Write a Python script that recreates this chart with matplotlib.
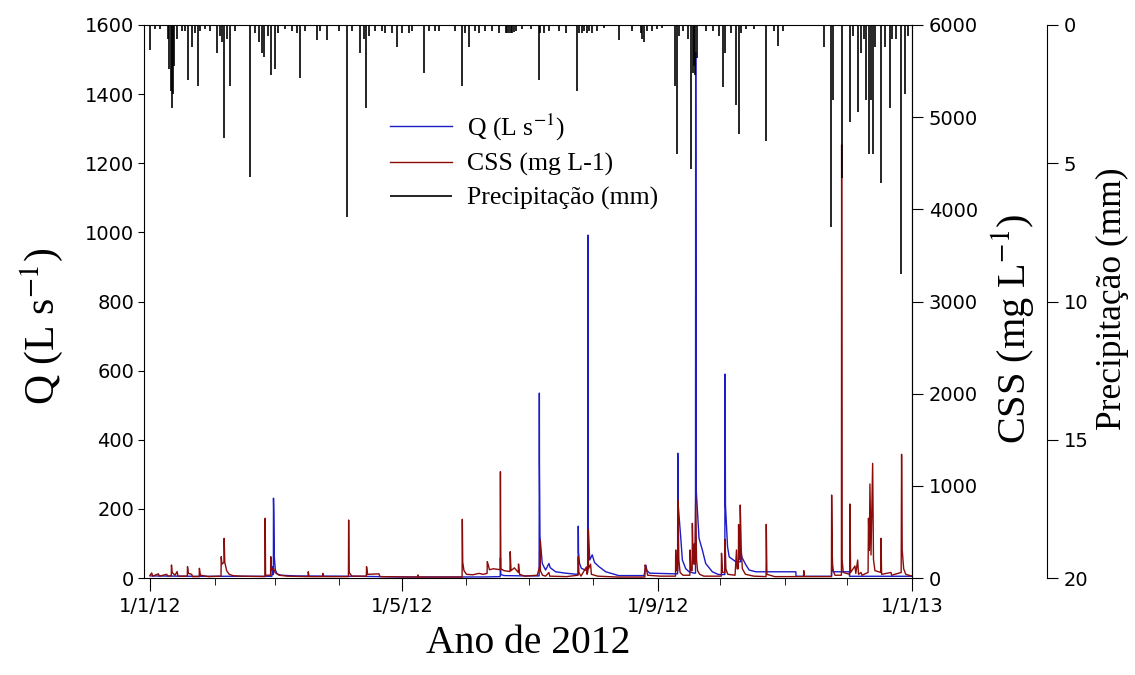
import numpy as np
import matplotlib
matplotlib.use("Agg")
import matplotlib.pyplot as plt
import matplotlib.dates as mdates
from matplotlib.ticker import FuncFormatter, MultipleLocator

q_dia = [0, 20, 40, 58.5, 58.9, 59.0, 59.25, 59.3, 59.45, 59.7, 60.2, 61, 63, 70,
         100, 120, 160, 168.2, 168.3, 168.5, 170, 180, 186.9, 187.0, 187.05, 187.3,
         188.4, 190, 191.6, 192.2, 194.8, 199.6, 204.4, 205.6, 205.7, 205.8, 206.3,
         207.2, 209.5, 210.2, 210.3, 210.5, 211.2, 212.4, 213.5, 215.6, 218.9, 222.9,
         225, 237.3, 238.2, 238.6, 240, 252.6, 253.4, 253.5, 253.6, 255, 255.7, 257.3,
         258.9, 261.3, 262.0, 262.1, 262.4, 263.7, 265.3, 266.9, 270.1, 273, 276.1,
         276.2, 276.4, 277.4, 278.2, 281.4, 283.7, 283.8, 284.3, 286.2, 287.8, 291,
         310.2, 310.3, 327.4, 327.5, 327.8, 328.2, 335.9, 336, 366]
q_val = [6, 5, 5, 5, 33, 10, 10, 231, 190, 60, 23, 12, 8, 6,
         5, 3, 3, 4, 58, 10, 7, 6, 6, 535, 335, 120,
         42, 23, 42, 30, 18, 14, 11, 11, 150, 75, 42,
         28, 22, 20, 992, 150, 52, 67, 45, 33, 18, 11,
         7, 7, 37, 22, 14, 12, 12, 361, 220, 110, 52, 27,
         18, 14, 14, 1520, 250, 115, 81, 42, 18, 10, 10,
         590, 211, 90, 61, 47, 47, 75, 60, 38, 23, 18,
         18, 5, 5, 120, 40, 18, 18, 5, 5]

# concentração de sedimentos em suspensão (mg/L)
css_dia = [0, 0.8, 1.3, 4, 4.5, 8, 8.5, 10.2, 10.3, 10.6, 12, 13, 13.4, 17.9, 18,
           18.4, 20, 20.4, 23.6, 23.7, 24.2, 28, 34.1, 34.2, 34.5, 35.5, 35.6, 35.9,
           36.8, 38, 40, 44, 55.2, 55.3, 55.5, 57.9, 58.0, 58.3, 59.2, 60, 62, 66,
           75.9, 76, 76.4, 82.9, 83, 83.4, 95.3, 95.4, 95.6, 97, 103.9, 104, 104.5,
           110, 110.4, 128.6, 128.7, 129, 149.9, 150, 150.2, 150.8, 152, 155, 158,
           160, 161.9, 162, 162.5, 163, 165, 168.2, 168.3, 168.5, 170, 172.9, 173,
           173.4, 175, 176.9, 177, 177.5, 180, 186, 187.1, 187.2, 187.5, 188.5, 190,
           191.6, 192, 200, 205.6, 205.7, 206, 207, 209.6, 209.9, 210.2, 210.3, 210.6,
           211.6, 212, 215, 225, 237.7, 237.8, 238.4, 239, 245, 252.4, 252.5, 252.9,
           253.5, 253.6, 254, 254.6, 256, 259.3, 259.4, 259.8, 260.4, 260.5, 260.9,
           261.4, 261.7, 262.1, 262.5, 263, 264, 266, 274.4, 274.5, 275, 276.1, 276.2,
           276.6, 277.5, 281, 281.7, 282, 282.6, 282.7, 283, 283.4, 283.5, 284, 284.5,
           286, 290, 295.9, 296, 296.3, 300, 313.9, 314, 314.3, 327.3, 327.4, 327.8,
           329, 332.1, 332.2, 332.4, 333, 336.1, 336.2, 336.5, 338.6, 339, 339.9,
           340.3, 341.5, 342, 344.9, 345.1, 345.5, 345.8, 346.3, 347.1, 347.5, 348.2,
           351, 351.1, 351.4, 355.9, 356.2, 360.8, 361.0, 361.3, 362, 363, 366]
css_val = [30, 55, 20, 45, 20, 40, 20, 25, 141, 60, 30, 70, 20, 20, 123,
           50, 40, 15, 15, 105, 30, 15, 20, 231, 150, 170, 430, 170,
           80, 40, 25, 20, 15, 648, 30, 30, 231, 80, 110, 60, 30, 20,
           15, 68, 15, 15, 50, 15, 15, 629, 60, 20, 20, 123, 40,
           45, 15, 10, 33, 10, 10, 637, 170, 80, 40, 35, 50,
           40, 50, 177, 140, 90, 100, 90, 1153, 100, 80, 70, 285,
           80, 110, 60, 152, 40, 20, 30, 120, 412, 80, 30, 20,
           60, 20, 15, 30, 231, 60, 20, 120, 40, 60, 528, 100,
           150, 40, 20, 10, 10, 141, 100, 30, 20, 20, 304, 80,
           80, 846, 200, 60, 30, 30, 304, 80, 80, 593, 150,
           370, 150, 880, 200, 80, 40, 20, 20, 268, 60, 60, 420,
           100, 40, 30, 304, 100, 100, 580, 200, 200, 792, 300, 100,
           40, 20, 15, 582, 40, 15, 15, 80, 15, 15, 900, 100,
           30, 30, 4700, 200, 60, 40, 803, 60, 130, 50, 195,
           40, 60, 30, 60, 648, 300, 1020, 250, 1244, 200, 80,
           60, 430, 40, 60, 30, 60, 1342, 300, 100, 40, 20]

# precipitação (mm)
chuva_dia = [0, 2.4, 4.8, 8.8, 9.2, 10.0, 10.4, 11.0, 11.6, 12.8, 15.2, 16.8, 18.4,
             20, 21.7, 22.9, 24, 26.5, 28.9, 32, 33.7, 34.5, 35.6, 36.9, 38.5, 40.9,
             48.1, 50.5, 52.1, 53.7, 54.8, 56.9, 58.2, 59.8, 61.7, 65, 68.1, 70.5,
             72.2, 74.6, 80.2, 81.8, 85, 90.6, 94.6, 97, 101, 102.6, 103.7, 105.3,
             108.2, 111.4, 113, 116.2, 118.6, 121, 124.3, 125.9, 131.5, 133.9, 137.1,
             138.7, 146.7, 150, 151.5, 153.2, 156.3, 157.9, 161.1, 164.4, 167.5, 170.8,
             171.6, 172.4, 173.2, 174, 174.8, 175.6, 178.8, 182.8, 186.8, 187.5, 189.2,
             191.6, 196.4, 199.6, 205.3, 206, 207.7, 208.5, 210.1, 211, 212.5, 214.9,
             218.1, 225.3, 231.7, 235.7, 236.5, 237.3, 238.9, 241.3, 243.7, 246.1,
             252.2, 253.3, 254, 255.8, 258.5, 260, 260.8, 261.2, 261.8, 262.5, 267,
             270.2, 273.4, 275, 276.3, 279, 281.4, 282.7, 284, 286.2, 290.2, 295.8,
             299.9, 301.5, 303.9, 323.9, 327.1, 327.9, 332.2, 336, 337.5, 339.9, 341.5,
             343, 344, 345.2, 346.3, 347.1, 348, 351.2, 352.8, 355.2, 356.5, 358.4,
             360.8, 362.4, 364]
chuva_mm = [0.9, 0.15, 0.15, 0.5, 1.6, 2.4, 3.0, 2.5, 1.5, 0.5, 0.2, 0.2, 2.0,
            0.8, 0.3, 2.2, 0.2, 0.15, 0.2, 1.0, 0.4, 0.6, 4.1, 0.5, 2.2, 0.2,
            5.5, 0.3, 0.6, 1.0, 1.15, 0.4, 1.8, 1.6, 0.3, 0.15, 0.2, 0.3,
            1.9, 0.2, 0.55, 0.2, 0.55, 0.2, 6.95, 0.2, 1.0, 0.5, 3.0, 0.4,
            0.2, 0.2, 0.3, 0.3, 0.8, 0.3, 0.3, 0.2, 1.75, 0.2, 0.2,
            0.2, 0.2, 2.2, 0.3, 0.8, 0.2, 0.3, 0.2, 0.2, 0.3, 0.3,
            0.3, 0.3, 0.3, 0.3, 0.25, 0.2, 0.15, 0.15, 2.0, 0.3, 0.3,
            0.2, 0.2, 0.3, 2.4, 0.3, 0.3, 0.2, 0.3, 0.2, 0.3, 0.2,
            0.1, 0.55, 0.2, 0.3, 0.5, 0.6, 0.2, 0.2, 0.15, 0.1,
            2.2, 4.65, 0.4, 0.2, 0.5, 5.2, 1.75, 1.5, 1.8, 1.2, 0.2,
            0.2, 0.4, 2.25, 1.0, 0.3, 2.9, 3.95, 0.3, 0.15, 0.15, 4.2,
            0.2, 0.75, 0.2, 0.8, 7.3, 2.7, 5.55, 3.5, 0.4, 3.15, 1.0,
            0.5, 2.7, 4.65, 2.7, 4.65, 0.8, 5.7, 0.8, 3.0, 0.5, 0.5,
            9.0, 2.5, 0.4]

plt.rcParams["mathtext.fontset"] = "stix"
serif = "Liberation Serif"

inicio = mdates.date2num(np.datetime64("2012-01-01"))

fig = plt.figure(figsize=(11.35, 6.75), dpi=100)
ax = fig.add_axes([144 / 1135, 97 / 675, 768 / 1135, 553 / 675])
ax2 = ax.twinx()
ax3 = ax.twinx()

l1, = ax.plot(inicio + np.array(q_dia), q_val, color="#1c1cc8", lw=1.0)
l2, = ax2.plot(inicio + np.array(css_dia), css_val, color="#8b0a0a", lw=1.0)
l3 = ax3.vlines(inicio + np.array(chuva_dia), 0, chuva_mm, color="black", lw=1.2)

ax.set_xlim(inicio - 2.9, inicio + 366)
ax.set_ylim(0, 1600)
ax2.set_ylim(0, 6000)
ax3.set_ylim(20, 0)

# eixo x em datas dia/mês/ano
def fmt_data(x, pos):
    d = mdates.num2date(x)
    return f"{d.day}/{d.month}/{d.year % 100}"

ax.xaxis.set_major_locator(mdates.MonthLocator(bymonth=[1, 5, 9]))
ax.xaxis.set_minor_locator(mdates.MonthLocator())
ax.xaxis.set_major_formatter(FuncFormatter(fmt_data))
ax.yaxis.set_major_locator(MultipleLocator(200))
ax2.yaxis.set_major_locator(MultipleLocator(1000))
ax3.yaxis.set_major_locator(MultipleLocator(5))

ax.tick_params(axis="x", which="major", direction="out", length=9, labelsize=14, pad=5)
ax.tick_params(axis="x", which="minor", direction="out", length=5)
ax.tick_params(axis="y", direction="out", length=4, labelsize=14, pad=3)
ax2.tick_params(axis="y", direction="out", length=8, labelsize=14, pad=4)
ax3.tick_params(axis="y", direction="out", length=8, labelsize=14, pad=4)

for s in ["top", "bottom", "left"]:
    ax2.spines[s].set_visible(False)
    ax3.spines[s].set_visible(False)
ax3.spines["right"].set_position(("outward", 97))

ax.set_xlabel("Ano de 2012", fontfamily=serif, fontsize=28.5, labelpad=6)
ax.set_ylabel("Q (L s$^{-1}$)", fontfamily=serif, fontsize=30)
ax2.set_ylabel("CSS (mg L$^{-1}$)", fontfamily=serif, fontsize=29)
ax3.set_ylabel("Precipitação (mm)", fontfamily=serif, fontsize=25.5)
ax.yaxis.set_label_coords(-0.103, 0.455)
ax2.yaxis.set_label_coords(1.10, 0.45)
ax3.yaxis.set_label_coords(1.24, 0.505)

ax3.legend([l1, l2, l3], ["Q (L s$^{-1}$)", "CSS (mg L-1)", "Precipitação (mm)"],
           loc="upper left", bbox_to_anchor=(0.29, 0.885), frameon=False,
           prop={"family": serif, "size": 18.5}, handlelength=2.4,
           handletextpad=0.6, labelspacing=0.4)

fig.savefig("out.png", dpi=100)
